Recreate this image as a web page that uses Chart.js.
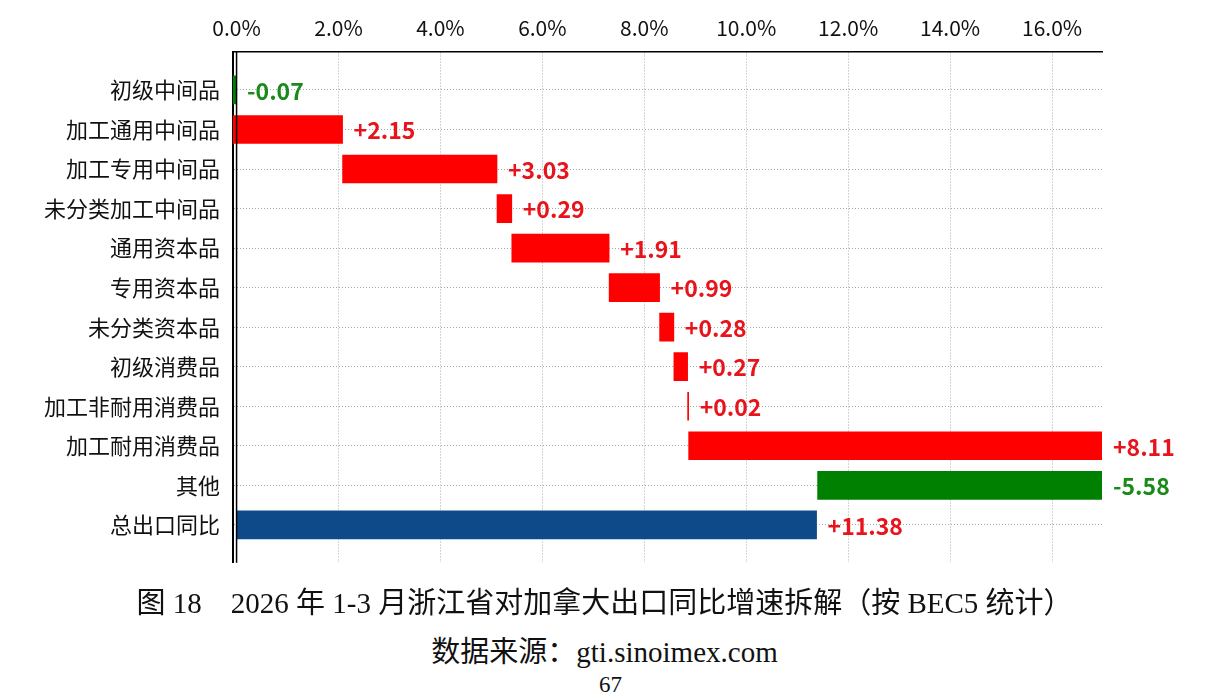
<!DOCTYPE html>
<html>
<head>
<meta charset="utf-8">
<script src="https://cdn.jsdelivr.net/npm/chart.js@4/dist/chart.umd.min.js"></script>
<style>
  body { margin: 0; background: #fff; }
  #page { position: relative; width: 1209px; height: 700px; overflow: hidden; }
  #chartBox { position: absolute; left: 0; top: 0; width: 1209px; height: 589px; }
  .cap { position: absolute; left: 0; width: 1209px; text-align: center; color: #111;
         font-family: "Liberation Serif", "Noto Sans CJK SC", serif; }
</style>
</head>
<body>
<div id="page">
  <div id="chartBox"><canvas id="waterfall"></canvas></div>
  <div class="cap" style="top:587px; font-size:29px; line-height:32px;">图 18&nbsp;&nbsp;&nbsp;&nbsp;2026 年 1-3 月浙江省对加拿大出口同比增速拆解（按 BEC5 统计）</div>
  <div class="cap" style="top:636px; font-size:29px; line-height:32px;">数据来源：gti.sinoimex.com</div>
  <div class="cap" style="top:672px; font-size:23px; line-height:26px; left:6px;">67</div>
</div>
<script>
// categories top to bottom, last one is the total
const categories = ['初级中间品', '加工通用中间品', '加工专用中间品', '未分类加工中间品', '通用资本品', '专用资本品',
                    '未分类资本品', '初级消费品', '加工非耐用消费品', '加工耐用消费品', '其他', '总出口同比'];
// contribution of each category (percentage points)
const changes = [-0.07, 2.15, 3.03, 0.29, 1.91, 0.99, 0.28, 0.27, 0.02, 8.11, -5.58];
const total = 11.38;

const RED = '#ff0000', GREEN = '#008000', BLUE = '#0e4a8a';
const TXT_RED = '#e8141c', TXT_GREEN = '#1a8a1a';
const FONT = '"Noto Sans CJK SC", "Noto Sans", sans-serif';

// floating bars of the waterfall
let run = 0;
const bars = changes.map((v, i) => {
    const start = run;
    run += v;
    return { x: [start, run], y: i };
});
bars.push({ x: [0, total], y: changes.length });

const barColors = changes.map(v => v >= 0 ? RED : GREEN).concat([BLUE]);
const labelTexts = changes.concat([total]).map(v => (v >= 0 ? '+' : '') + v.toFixed(2));
const labelColors = changes.map(v => v >= 0 ? TXT_RED : TXT_GREEN).concat([TXT_RED]);

let xMax = 0;
bars.forEach(b => { xMax = Math.max(xMax, b.x[0], b.x[1]); });

const extras = {
    id: 'extras',
    afterDatasetsDraw(chart) {
        const ctx = chart.ctx;
        const area = chart.chartArea;
        const xs = chart.scales.x;
        // black zero line
        const x0 = xs.getPixelForValue(0);
        ctx.save();
        ctx.strokeStyle = '#000';
        ctx.lineWidth = 1.5;
        ctx.beginPath();
        ctx.moveTo(x0, area.top);
        ctx.lineTo(x0, area.bottom);
        ctx.stroke();

        // value labels right of each bar
        ctx.font = 'bold 23px ' + FONT;
        ctx.textBaseline = 'middle';
        ctx.textAlign = 'left';
        chart.getDatasetMeta(0).data.forEach((el, i) => {
            const right = Math.max(el.x, el.base);
            ctx.fillStyle = labelColors[i];
            ctx.fillText(labelTexts[i], right + 11, el.y + 1);
        });
        ctx.restore();
    }
};

new Chart(document.getElementById('waterfall'), {
    type: 'bar',
    data: {
        datasets: [{
            data: bars,
            backgroundColor: barColors,
            borderWidth: 0,
            borderSkipped: false,
            barThickness: 28
        }]
    },
    options: {
        indexAxis: 'y',
        responsive: true,
        maintainAspectRatio: false,
        animation: false,
        layout: { padding: { left: 0, right: 107, top: 0, bottom: 10 } },
        plugins: {
            legend: { display: false },
            tooltip: { enabled: false }
        },
        scales: {
            x: {
                type: 'linear',
                position: 'top',
                min: -0.07,
                max: xMax,
                afterFit: s => { s.height = 52; },
                ticks: {
                    stepSize: 2,
                    includeBounds: false,
                    padding: 11,
                    color: '#111',
                    font: { family: FONT, size: 21 },
                    callback: v => v.toFixed(1) + '%'
                },
                grid: { color: '#a8a8a8', lineWidth: 1, drawTicks: false },
                border: { display: true, color: '#000', width: 1.5, dash: [1, 2] }
            },
            y: {
                type: 'linear',
                reverse: true,
                offset: false,
                min: -0.96,
                max: 11.96,
                afterFit: s => { s.width = 233; },
                ticks: {
                    stepSize: 1,
                    includeBounds: false,
                    autoSkip: false,
                    padding: 13,
                    color: '#111',
                    font: { family: FONT, size: 22 },
                    callback: v => categories[v] || ''
                },
                grid: { offset: false, color: '#a8a8a8', lineWidth: 1, drawTicks: false },
                border: { display: true, color: '#000', width: 2, dash: [1, 2] }
            }
        }
    },
    plugins: [extras]
});
</script>
</body>
</html>
